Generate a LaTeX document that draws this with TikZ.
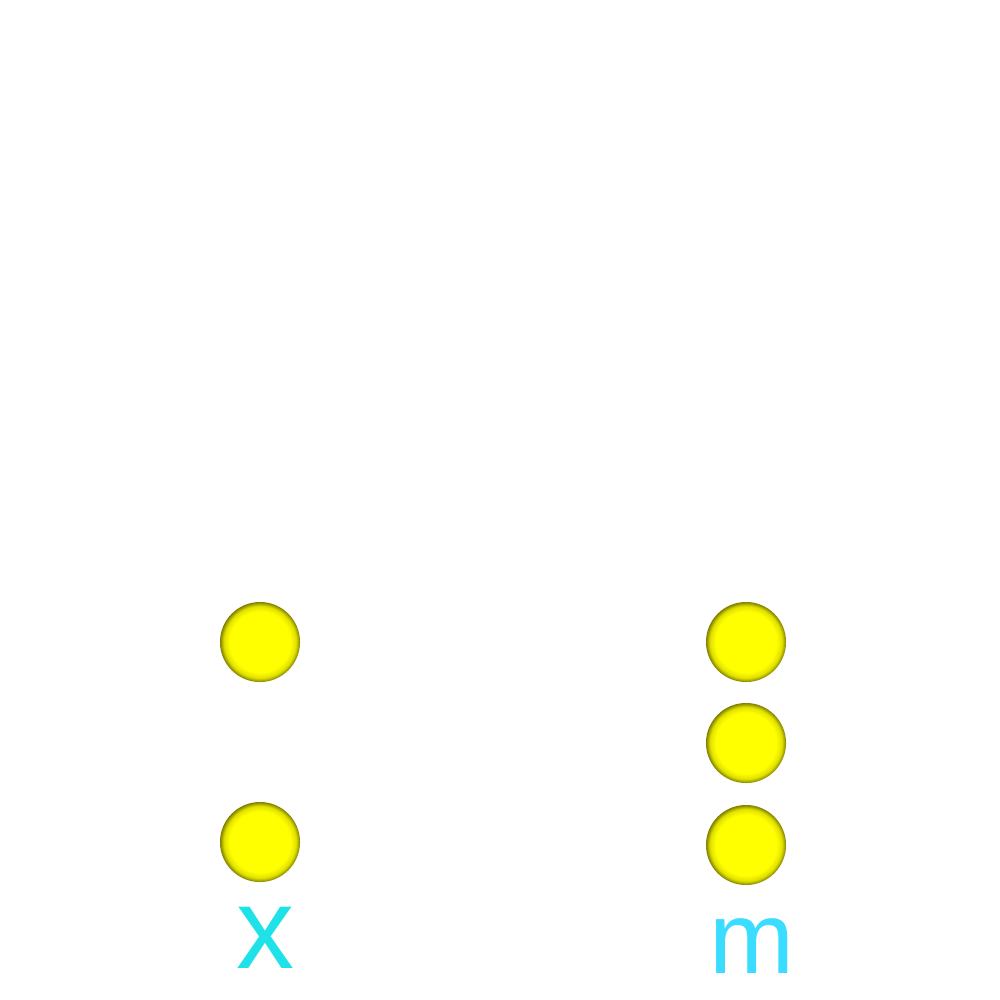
\documentclass[tikz,border=0pt]{standalone}
\usepackage{fontspec}
\setmainfont{Liberation Sans}
\pgfdeclareradialshading{rimball}{\pgfpoint{0bp}{0bp}}{color(0bp)=(yellow); color(19bp)=(yellow); color(22.5bp)=(yellow!88!black); color(25bp)=(yellow!50!black); color(50bp)=(yellow!50!black)}
\definecolor{xcyan}{RGB}{30,226,232}
\definecolor{mcyan}{RGB}{58,220,255}
\tikzset{
  ball/.style={circle, minimum size=0.80cm, inner sep=0pt, shading=rimball},
  lbl/.style={anchor=base, inner sep=0pt}
}
\begin{document}
\begin{tikzpicture}[x=0.01cm,y=-0.01cm]
\useasboundingbox (0,0) rectangle (1000,1000);
\node[ball] (l1) at (260,642) {};
\node[ball] (l2) at (260,842) {};
\node[ball] (r1) at (746,642) {};
\node[ball] (r2) at (746,743) {};
\node[ball] (r3) at (746,845) {};
\node[lbl, text=xcyan, font=\fontsize{33}{33}\selectfont] (tx) at (266,968) {x};
\node[lbl, text=mcyan, font=\fontsize{29}{29}\selectfont] (tm) at (752,973) {m};
\end{tikzpicture}
\end{document}
